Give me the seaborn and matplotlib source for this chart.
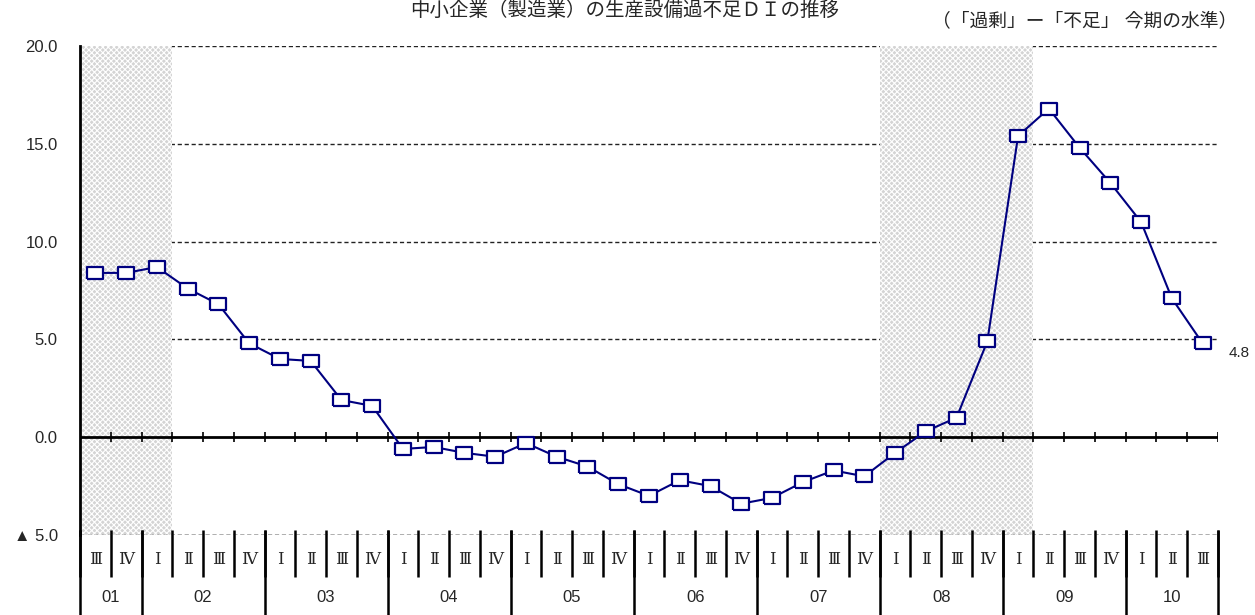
"""
中小企業（製造業）の生産設備過不足DIの推移 (2001 Q3 - 2010 Q3).
Line chart with shaded periods and a year/quarter table under the axis.
"""
import numpy as np
import pandas as pd
import matplotlib
matplotlib.use('Agg')
import matplotlib.pyplot as plt
import matplotlib.transforms as mtransforms
import seaborn as sns

# ---- data -----------------------------------------------------------------
years = ['01', '02', '03', '04', '05', '06', '07', '08', '09', '10']
quarters_per_year = [2, 4, 4, 4, 4, 4, 4, 4, 4, 3]
quarter_names = ['Ⅰ', 'Ⅱ', 'Ⅲ', 'Ⅳ']
first_year_start = 2          # 2001 starts at Ⅲ (index 2)

di_values = [8.4, 8.4, 8.7, 7.6, 6.8, 4.8, 4.0, 3.9, 1.9, 1.6,
             -0.6, -0.5, -0.8, -1.0, -0.3, -1.0, -1.5, -2.4,
             -3.0, -2.2, -2.5, -3.4, -3.1, -2.3, -1.7, -2.0,
             -0.8, 0.3, 1.0, 4.9, 15.4, 16.8, 14.8, 13.0, 11.0, 7.1, 4.8]

# shaded periods (start, end), as (year, quarter)
shaded_periods = [(('01', 'Ⅲ'), ('02', 'Ⅰ')),
                  (('08', 'Ⅰ'), ('09', 'Ⅰ'))]

y_ticks = [-5, 0, 5, 10, 15, 20]
y_tick_labels = ['▲ 5.0', '0.0', '5.0', '10.0', '15.0', '20.0']
grid_levels = [-5, 5, 10, 15, 20]

title = '中小企業（製造業）の生産設備過不足ＤＩの推移'
subtitle = '（「過剰」ー「不足」 今期の水準）'

# ---- build table ------------------------------------------------------------
rows = []
for i, (yr, n) in enumerate(zip(years, quarters_per_year)):
    start = first_year_start if i == 0 else 0
    for q in quarter_names[start:start + n]:
        rows.append((yr, q))
df = pd.DataFrame(rows, columns=['year', 'quarter'])
df['pos'] = np.arange(len(df))
df['DI'] = di_values

def pos_of(yr, q):
    return df.query('year == @yr and quarter == @q')['pos'].iloc[0]

# ---- style --------------------------------------------------------------------
sns.set_style('white')
plt.rcParams['font.family'] = ['Liberation Sans', 'Noto Sans CJK JP', 'DejaVu Sans']
plt.rcParams['hatch.linewidth'] = 0.8

W, H = 1255, 615
fig = plt.figure(figsize=(W / 100, H / 100), dpi=100)
ax_left, ax_right, ax_top, ax_bottom = 80, 1218, 46, 535
ax = fig.add_axes([ax_left / W, (H - ax_bottom) / H,
                   (ax_right - ax_left) / W, (ax_bottom - ax_top) / H])

def yfrac(px):
    # pixel row -> axes fraction
    return (ax_bottom - px) / (ax_bottom - ax_top)

navy = '#000080'

# gridlines
for lev in grid_levels:
    ax.axhline(lev, color='#222222', lw=1, dashes=(3, 2), zorder=1)

# shaded periods
for (s, e) in shaded_periods:
    ax.axvspan(pos_of(*s) - 0.5, pos_of(*e) + 0.5, facecolor='#d4d4d4',
               edgecolor='white', hatch='xxxxxx', lw=0, zorder=2)
ax.axhline(-5, color='#222222', lw=1, dashes=(3, 2), zorder=2.5)

# zero line with quarter ticks
bounds = np.arange(len(df) + 1) - 0.5
ax.axhline(0, color='black', lw=2, zorder=3)
ax.vlines(bounds[1:], -0.26, 0.26, color='black', lw=1.2, zorder=3)

# the series
rect = [(-1.3, -1), (1.3, -1), (1.3, 1), (-1.3, 1), (-1.3, -1)]
sns.lineplot(data=df, x='pos', y='DI', color=navy, lw=1.5, marker=rect,
             markersize=11.5, markerfacecolor='white', markeredgecolor=navy,
             markeredgewidth=1.6, ax=ax, zorder=5)

last = df.iloc[-1]
ax.annotate(f"{last['DI']:.1f}", xy=(last['pos'], last['DI']),
            xytext=(19, -7), textcoords='offset points',
            ha='left', va='center', fontsize=11, annotation_clip=False)

# axes
ax.set_xlim(-0.5, len(df) - 0.5)
ax.set_ylim(-5, 20)
ax.set_yticks(y_ticks)
ax.set_yticklabels(y_tick_labels, fontsize=12)
ax.tick_params(axis='y', length=0, pad=16)
ax.set_xticks([])
ax.set_xlabel('')
ax.set_ylabel('')
sns.despine(ax=ax, top=True, right=True, bottom=True, left=False)
ax.spines['left'].set_color('black')
ax.spines['left'].set_linewidth(2)

# table under the axis: quarter row and year row
trans = mtransforms.blended_transform_factory(ax.transData, ax.transAxes)
year_bounds = np.concatenate([[0], np.cumsum(quarters_per_year)]) - 0.5
ax.vlines(bounds, yfrac(530), yfrac(577), color='black', lw=1.8,
          transform=trans, clip_on=False)
ax.vlines(year_bounds, yfrac(530), yfrac(H + 2), color='black', lw=1.8,
          transform=trans, clip_on=False)

for _, r in df.iterrows():
    ax.text(r['pos'], yfrac(560), r['quarter'], transform=trans,
            ha='center', va='center', fontsize=12,
            family=['DejaVu Serif', 'Noto Sans CJK JP'])

year_centers = df.groupby('year', sort=False)['pos'].mean()
for yr, xc in year_centers.items():
    ax.text(xc, yfrac(598), yr, transform=trans, ha='center', va='center',
            fontsize=12)

# titles
fig.text(0.498, 1 - 1 / H, title, ha='center', va='top', fontsize=14)
fig.text(1237 / W, 1 - 21 / H, subtitle, ha='right', va='center', fontsize=13.5)

fig.savefig('out.png', dpi=100)
